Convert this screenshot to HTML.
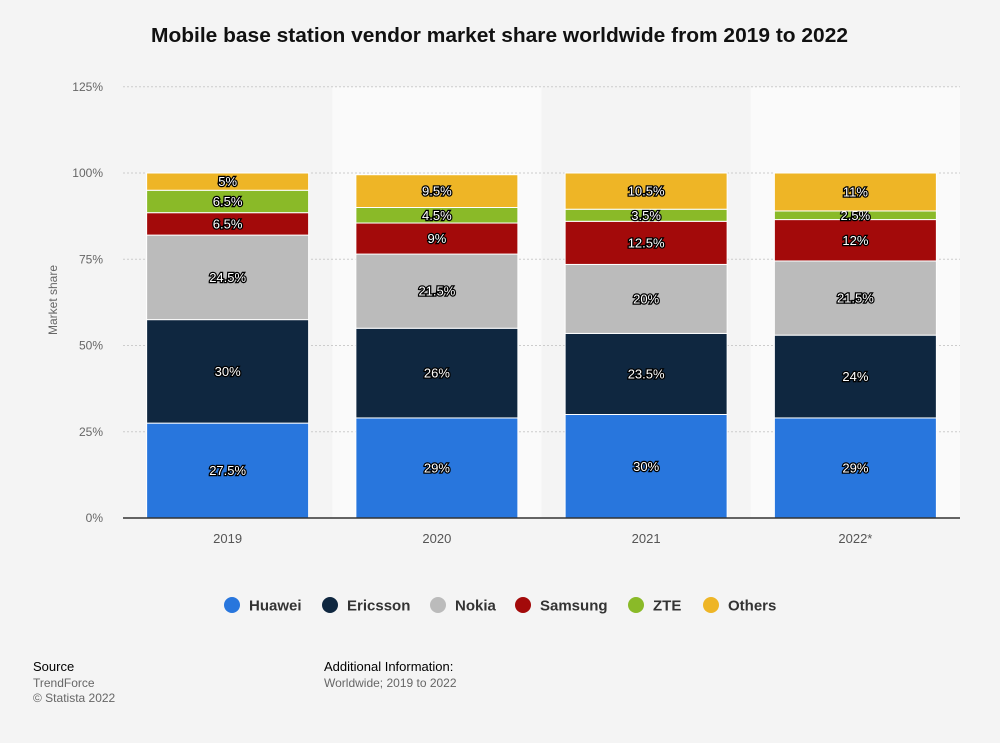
<!DOCTYPE html>
<html><head><meta charset="utf-8"><style>
body{margin:0;background:#f4f4f4;font-family:"Liberation Sans",sans-serif;}
svg{display:block}
.lbl{fill:#fff;stroke:#000;stroke-width:2.5px;paint-order:stroke;font-size:13px;text-anchor:middle;dominant-baseline:central}
</style></head><body>
<svg id="c" width="1000" height="743">
<text x="151" y="42" font-size="20" font-weight="bold" fill="#111" textLength="697" lengthAdjust="spacingAndGlyphs">Mobile base station vendor market share worldwide from 2019 to 2022</text>
<text transform="translate(57,300) rotate(-90)" text-anchor="middle" font-size="12" fill="#666">Market share</text>
<text x="33" y="671" font-size="13" fill="#000">Source</text>
<text x="33" y="687" font-size="12" fill="#666">TrendForce</text>
<text x="33" y="702" font-size="12" fill="#666">© Statista 2022</text>
<text x="324" y="671" font-size="13" fill="#000">Additional Information:</text>
<text x="324" y="687" font-size="12" fill="#666">Worldwide; 2019 to 2022</text>
<g id="plot"></g>
<g id="legend"></g>
</svg>
<script>
const categories=["2019","2020","2021","2022*"];
const seriesNames=["Huawei","Ericsson","Nokia","Samsung","ZTE","Others"];
const huawei=[27.5,29,30,29];
const ericsson=[30,26,23.5,24];
const nokia=[24.5,21.5,20,21.5];
const samsung=[6.5,9,12.5,12];
const zte=[6.5,4.5,3.5,2.5];
const others=[5,9.5,10.5,11];
const yTicks=[0,25,50,75,100,125];
const colors=["#2876dd","#0f2740","#bbbbbb","#a30a0a","#8aba28","#eeb526"];
const series=[huawei,ericsson,nokia,samsung,zte,others];
const NS="http://www.w3.org/2000/svg";
const x0=123,x1=960,y0=518,pxPer=3.45;
const band=(x1-x0)/categories.length, barW=162;
const y=v=>y0-v*pxPer;
const xc=i=>x0+band*(i+0.5);
const plot=document.getElementById('plot');
function mk(t,a,p){const e=document.createElementNS(NS,t);for(const k in a)e.setAttribute(k,a[k]);(p||plot).appendChild(e);return e;}
categories.forEach((c,i)=>{
 const r=mk('rect',{x:x0+band*i,y:y(125),width:band,height:y0-y(125),fill:i%2?"#fafafa":"#f4f4f4"});
 
 
});
yTicks.forEach(t=>{
 if(t>0){const l=mk('line',{x1:x0,x2:x1,y1:y(t),y2:y(t),stroke:"#ccc","stroke-dasharray":"2,2"});
 
 }
 const tx=mk('text',{x:103,y:y(t)+4,"text-anchor":"end","font-size":12,fill:"#666"});tx.textContent=t+"%";
 
 
});
categories.forEach((c,i)=>{
 let acc=0;
 series.forEach((s,k)=>{
  const v=s[i];
  const r=mk('rect',{x:xc(i)-barW/2,y:y(acc+v),width:barW,height:v*pxPer,fill:colors[k],stroke:"#fff","stroke-width":1});
  
  
  const t=mk('text',{x:xc(i),y:y(acc+v/2),class:"lbl"});t.textContent=v+"%";
  
  
  acc+=v;
 });
 const xl=mk('text',{x:xc(i),y:543,"text-anchor":"middle","font-size":13,fill:"#555"});xl.textContent=c;
 
 
});
const ax=mk('line',{x1:x0,x2:x1,y1:y0,y2:y0,stroke:"#333","stroke-width":1.5});


const lg=document.getElementById('legend');
const lx=[232,330,438,523,636,711];
seriesNames.forEach((n,k)=>{
 const g=mk('g',{},lg);
 
 
 mk('circle',{cx:lx[k],cy:605,r:8,fill:colors[k]},g);
 const t=mk('text',{x:lx[k]+17,y:610.5,"font-size":15,"font-weight":"bold",fill:"#333"},g);t.textContent=n;
});
</script>
</body></html>
